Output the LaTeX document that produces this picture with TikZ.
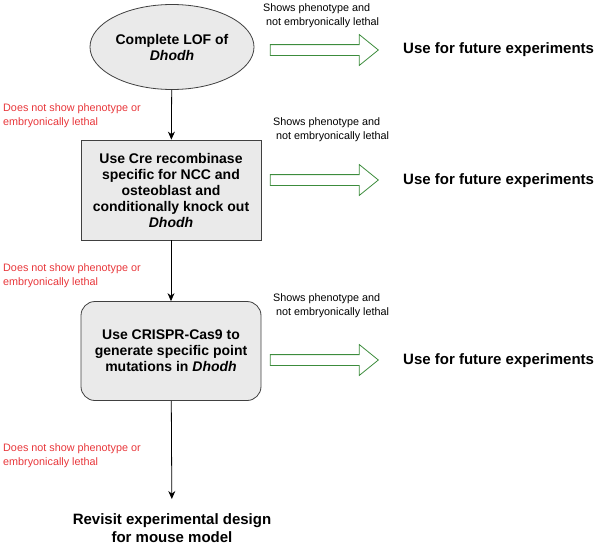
\documentclass[tikz,border=0pt]{standalone}
\usepackage{fontspec}
\setmainfont{Liberation Sans}
\usetikzlibrary{positioning}
\usetikzlibrary{arrows.meta,shapes.geometric,shapes.arrows}
\definecolor{nogored}{RGB}{232,54,58}
\definecolor{gogreen}{RGB}{60,140,60}
\definecolor{boxgray}{RGB}{234,234,234}

\begin{document}
\begin{tikzpicture}[x=1pt,y=-1pt,
    stage/.style={draw=black!75,fill=boxgray,line width=0.8pt,inner sep=0pt,
      font=\fontsize{14}{16}\selectfont\bfseries,align=center},
    nogo/.style={text=nogored,font=\fontsize{10.8}{14}\selectfont,align=left,anchor=west,inner sep=0pt},
    shows/.style={font=\fontsize{10.8}{14}\selectfont,align=left,anchor=west,inner sep=0pt},
    bigarrow/.style={single arrow,draw=gogreen,line width=0.8pt,minimum height=108pt,minimum width=30pt,
      single arrow head extend=10pt,single arrow tip angle=78,inner xsep=0pt,inner ysep=5pt},
    future/.style={font=\fontsize{15}{18}\selectfont\bfseries,anchor=west,inner sep=0pt},
    down/.style={-{Stealth[length=8pt,width=7pt]},line width=0.8pt}]
  \useasboundingbox (0,0) rectangle (611,549);
  % the three mouse models
  \node (LOF) [stage,ellipse,minimum width=164pt,minimum height=85pt] at (172,47) {Complete LOF of\\\textit{Dhodh}};
  \node (Cre) [stage,rectangle,minimum width=180pt,minimum height=100pt] at (171,190)
    {Use Cre recombinase\\specific for NCC and\\osteoblast and\\conditionally knock out\\\textit{Dhodh}};
  \node (CRISPR) [stage,rectangle,rounded corners=14pt,minimum width=180pt,minimum height=99pt] at (171,351)
    {Use CRISPR-Cas9 to\\generate specific point\\mutations in \textit{Dhodh}};
  \node (Revisit) [anchor=north,inner sep=0pt,align=center,font=\fontsize{15}{18}\selectfont\bfseries] at (172,513)
    {Revisit experimental design\\for mouse model};
  % failing outcomes
  \draw[down] (LOF) -- (Cre);
  \draw[down] (Cre) -- (CRISPR);
  \draw[down,shorten >=14pt] (CRISPR) -- (Revisit);
  \node (fail1) [nogo] at (3,116) {Does not show phenotype or\\embryonically lethal};
  \node (fail2) [nogo] at (3,276) {Does not show phenotype or\\embryonically lethal};
  \node (fail3) [nogo] at (3,456) {Does not show phenotype or\\embryonically lethal};
  % succeeding outcomes
  \node (win1) [shows] at (263,16) {Shows phenotype and\\\ not embryonically lethal};
  \node (win2) [shows] at (273,130) {Shows phenotype and\\\ not embryonically lethal};
  \node (win3) [shows] at (273,306) {Shows phenotype and\\\ not embryonically lethal};
  \node (go1) [bigarrow] at (321,50) {};
  \node (go2) [bigarrow] at (321,180) {};
  \node (go3) [bigarrow] at (321,360) {};
  \node (use1) [future] at (403,50) {Use for future experiments};
  \node (use2) [future] at (403,181) {Use for future experiments};
  \node (use3) [future] at (403,361) {Use for future experiments};
\end{tikzpicture}
\end{document}
